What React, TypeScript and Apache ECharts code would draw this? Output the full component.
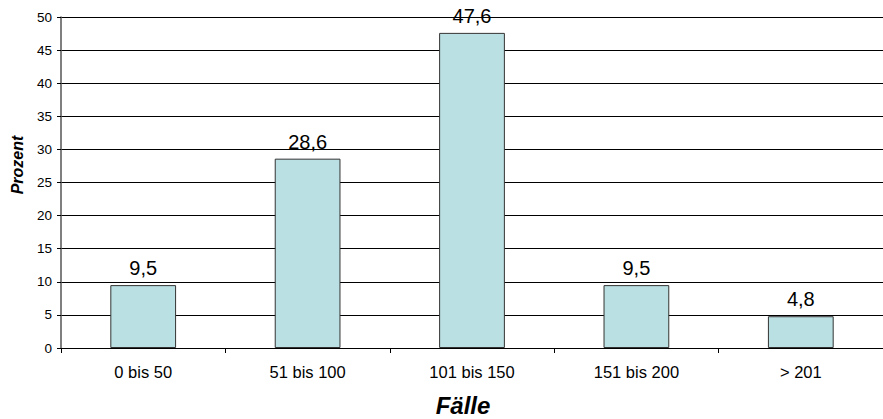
import React, { useEffect, useRef } from "react";
import * as echarts from "echarts";

// Share of cases per case-count band (percent)
const categories = ["0 bis 50", "51 bis 100", "101 bis 150", "151 bis 200", "> 201"];
const percentValues = [9.5, 28.6, 47.6, 9.5, 4.8];
const yMin = 0;
const yMax = 50;
const yStep = 5;
const xTitle = "Fälle";
const yTitle = "Prozent";

const FONT = "'Liberation Sans', Arial, sans-serif";

export default function App() {
  const ref = useRef<HTMLDivElement>(null);

  useEffect(() => {
    if (!ref.current) return;
    const chart = echarts.init(ref.current, null, { renderer: "svg" });
    chart.setOption({
      animation: false,
      backgroundColor: "#ffffff",
      textStyle: { fontFamily: FONT },
      grid: { left: 61, top: 17, width: 834, height: 331, containLabel: false },
      xAxis: {
        type: "category",
        data: categories,
        boundaryGap: true,
        axisLine: { show: true, lineStyle: { color: "#000", width: 1 } },
        axisTick: { show: true, alignWithLabel: false, length: 5, lineStyle: { color: "#000" } },
        axisLabel: { color: "#000", fontSize: 16.5, fontFamily: FONT, margin: 15 },
        splitLine: { show: false },
      },
      yAxis: {
        type: "value",
        min: yMin,
        max: yMax,
        interval: yStep,
        axisLine: { show: true, lineStyle: { color: "#555", width: 1.5 } },
        axisTick: { show: true, inside: false, length: 4, lineStyle: { color: "#000" } },
        axisLabel: { color: "#000", fontSize: 13.5, fontFamily: FONT, margin: 9 },
        splitLine: { show: true, lineStyle: { color: "#000", width: 1 } },
      },
      series: [
        {
          type: "bar",
          data: percentValues,
          barWidth: "40%",
          itemStyle: { color: "#bbe0e3", borderColor: "#333", borderWidth: 1 },
          label: {
            show: true,
            position: "top",
            distance: 7,
            color: "#000",
            fontSize: 20,
            fontFamily: FONT,
            formatter: (p: any) => String(p.value).replace(".", ","),
          },
        },
      ],
      graphic: [
        {
          type: "text",
          x: 463,
          y: 405,
          style: {
            text: xTitle,
            fontSize: 24,
            fontWeight: "bold",
            fontStyle: "italic",
            fontFamily: FONT,
            fill: "#000",
            align: "center",
            verticalAlign: "middle",
          },
        },
        {
          type: "text",
          x: 17.5,
          y: 165,
          rotation: Math.PI / 2,
          style: {
            text: yTitle,
            fontSize: 16,
            fontWeight: "bold",
            fontStyle: "italic",
            fontFamily: FONT,
            fill: "#000",
            align: "center",
            verticalAlign: "middle",
          },
        },
      ],
    });
    return () => chart.dispose();
  }, []);

  return (
    <div
      ref={ref}
      style={{ position: "fixed", left: 0, top: 0, width: 883, height: 419, background: "#fff" }}
    />
  );
}
